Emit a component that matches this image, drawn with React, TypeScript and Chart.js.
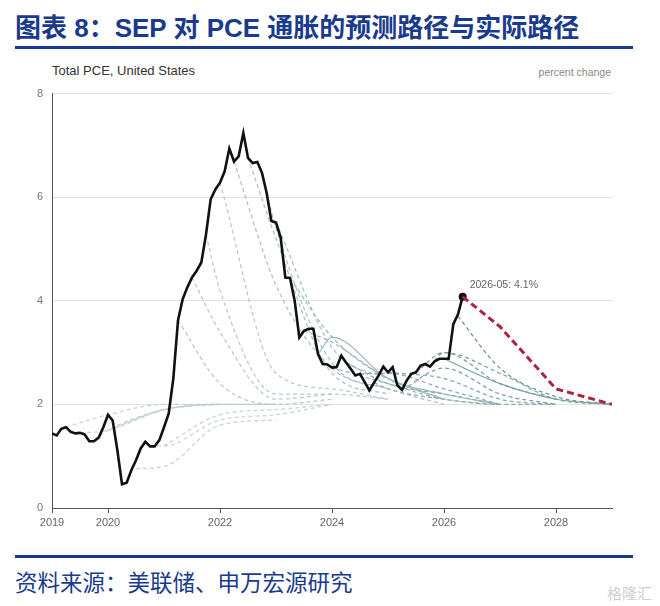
import React, { useRef, useEffect } from 'react';
import { Chart, registerables } from 'chart.js';

Chart.register(...registerables);

// monthly PCE y/y, 2019-01 .. 2026-05
const pceActual = [
  1.44, 1.40, 1.53, 1.56, 1.47, 1.44, 1.45, 1.42, 1.29, 1.29, 1.36, 1.56,
  1.80, 1.69, 1.12, 0.46, 0.49, 0.73, 0.92, 1.15, 1.28, 1.19, 1.19, 1.31,
  1.56, 1.82, 2.50, 3.62, 4.03, 4.26, 4.45, 4.58, 4.74, 5.28, 5.96, 6.15,
  6.28, 6.50, 6.94, 6.69, 6.79, 7.24, 6.76, 6.66, 6.68, 6.47, 6.08, 5.54,
  5.51, 5.22, 4.45, 4.44, 4.00, 3.29, 3.42, 3.46, 3.46, 2.97, 2.78, 2.77,
  2.71, 2.72, 2.94, 2.81, 2.69, 2.56, 2.59, 2.43, 2.27, 2.42, 2.56, 2.73,
  2.62, 2.72, 2.37, 2.28, 2.46, 2.59, 2.62, 2.75, 2.78, 2.73, 2.83, 2.88,
  2.88, 2.88, 3.55, 3.74, 4.08,
];
const actualStartYear = 2019;
const latestLabel = '2026-05: 4.1%';

// SEP median projections (Q4/Q4), one path per release
const sepReleases = [
  '2019-03', '2019-06', '2019-09', '2019-12', '2020-06', '2020-09', '2020-12',
  '2021-03', '2021-06', '2021-09', '2021-12', '2022-03', '2022-06', '2022-09',
  '2022-12', '2023-03', '2023-06', '2023-09', '2023-12', '2024-03', '2024-06',
  '2024-09', '2024-12', '2025-03', '2025-06', '2025-09', '2025-12', '2026-03',
];
const sepStartValues = [
  1.56, 1.45, 1.3, 1.5, 0.76, 1.2, 1.2,
  3.62, 4.45, 5.28, 6.28, 6.69, 6.76, 6.47,
  5.51, 4.44, 3.42, 2.97, 2.71, 2.81, 2.59,
  2.42, 2.62, 2.28, 2.62, 2.73, 2.88, 3.7,
];
const sepFirstYear = [
  2019, 2019, 2019, 2020, 2020, 2020, 2021,
  2021, 2021, 2021, 2022, 2022, 2022, 2022,
  2023, 2023, 2023, 2023, 2024, 2024, 2024,
  2024, 2025, 2025, 2025, 2025, 2026, 2026,
];
const sepPaths = [
  [1.8, 2.0, 2.0],
  [1.5, 1.9, 2.0],
  [1.5, 1.9, 2.0, 2.0],
  [1.9, 2.0, 2.0],
  [0.8, 1.6, 1.7],
  [1.2, 1.7, 1.8, 2.0],
  [1.8, 1.9, 2.0],
  [2.4, 2.0, 2.1],
  [3.4, 2.1, 2.2],
  [4.2, 2.2, 2.2, 2.1],
  [2.6, 2.3, 2.1],
  [4.3, 2.7, 2.3],
  [5.2, 2.6, 2.2],
  [5.4, 2.8, 2.3, 2.0],
  [3.1, 2.5, 2.1],
  [3.3, 2.5, 2.1],
  [3.2, 2.5, 2.1],
  [3.3, 2.5, 2.2, 2.0],
  [2.4, 2.1, 2.0],
  [2.4, 2.2, 2.0],
  [2.6, 2.3, 2.0],
  [2.3, 2.1, 2.0, 2.0],
  [2.5, 2.1, 2.0],
  [2.7, 2.2, 2.0],
  [3.0, 2.4, 2.1],
  [3.0, 2.6, 2.1, 2.0],
  [2.4, 2.1, 2.0],
  [2.7, 2.15, 2.0],
];
const solidReleases = ['2019-12', '2023-09', '2025-12'];

// newest projection, starting from the latest print
const latestFirstYear = 2026;
const latestPath = [3.5, 2.3, 2.0];

const xTickYears = [2019, 2020, 2022, 2024, 2026, 2028];
const yTicks = [0, 2, 4, 6, 8];

const yearColors: Record<number, string> = {
  2019: 'rgba(190,203,203,0.8)',
  2020: 'rgba(190,203,203,0.8)',
  2021: 'rgba(176,194,195,0.85)',
  2022: 'rgba(165,188,190,0.9)',
  2023: 'rgba(146,176,178,0.9)',
  2024: 'rgba(132,168,170,0.95)',
  2025: '#7aa2a4',
  2026: '#6c9a9b',
};

const FONT = "'Liberation Sans', Arial, sans-serif";

const App: React.FC = () => {
  const canvasRef = useRef<HTMLCanvasElement>(null);
  const chartRef = useRef<Chart | null>(null);

  useEffect(() => {
    if (!canvasRef.current) return;
    document.body.style.margin = '0';

    const actualPts = pceActual.map((v, i) => ({ x: actualStartYear + i / 12, y: v }));
    const lastPt = actualPts[actualPts.length - 1];

    const sepSets: any[] = sepReleases.map((rel, k) => {
      const [yy, mm] = rel.split('-').map(Number);
      const pts = [{ x: yy + mm / 12, y: sepStartValues[k] }];
      sepPaths[k].forEach((v, j) => pts.push({ x: sepFirstYear[k] + j + 1, y: v }));
      const solid = solidReleases.includes(rel);
      return {
        data: pts,
        borderColor: yearColors[yy],
        borderWidth: solid ? 1.2 : 1.3,
        borderDash: solid ? [] : [4, 3],
        pointRadius: 0,
        cubicInterpolationMode: 'monotone',
        order: 5,
      };
    });

    const redPts = [{ x: lastPt.x, y: lastPt.y }];
    latestPath.forEach((v, j) => redPts.push({ x: latestFirstYear + j + 1, y: v }));

    const annotate = {
      id: 'latestLabel',
      afterDatasetsDraw(chart: any) {
        const meta = chart.getDatasetMeta(sepSets.length);
        const el = meta.data[meta.data.length - 1];
        if (!el) return;
        const c = chart.ctx;
        c.save();
        c.font = `10.5px ${FONT}`;
        c.fillStyle = '#666';
        c.textBaseline = 'middle';
        c.fillText(latestLabel, el.x + 7, el.y - 12);
        c.restore();
      },
    };

    chartRef.current = new Chart(canvasRef.current, {
      type: 'line',
      data: {
        datasets: [
          ...sepSets,
          {
            data: actualPts,
            borderColor: '#111',
            borderWidth: 2.6,
            pointRadius: (ctx: any) => (ctx.dataIndex === pceActual.length - 1 ? 4 : 0),
            pointBackgroundColor: '#111',
            pointBorderWidth: 0,
            tension: 0,
            order: 1,
          },
          {
            data: redPts,
            borderColor: '#ad2240',
            borderWidth: 3,
            borderDash: [7, 4],
            pointRadius: 0,
            tension: 0,
            order: 0,
          },
        ],
      },
      options: {
        animation: false,
        responsive: false,
        layout: { padding: { top: 0, right: 48, left: 0, bottom: 0 } },
        plugins: { legend: { display: false }, tooltip: { enabled: false } },
        scales: {
          x: {
            type: 'linear',
            min: 2019,
            max: 2029,
            afterBuildTicks: (s: any) => {
              s.ticks = xTickYears.map((v) => ({ value: v }));
            },
            afterFit: (s: any) => {
              s.height = 26;
            },
            ticks: {
              color: '#666',
              font: { size: 11, family: FONT },
              padding: 3,
              maxRotation: 0,
              autoSkip: false,
              callback: (v: any) => String(v),
            },
            grid: { drawOnChartArea: false, drawTicks: true, tickLength: 5, color: '#555' },
            border: { color: '#555', width: 1 },
          },
          y: {
            min: 0,
            max: 8,
            afterBuildTicks: (s: any) => {
              s.ticks = yTicks.map((v) => ({ value: v }));
            },
            afterFit: (s: any) => {
              s.width = 52;
            },
            ticks: { color: '#777', font: { size: 11, family: FONT }, padding: 9 },
            grid: {
              drawTicks: false,
              color: (ctx: any) => (ctx.tick && ctx.tick.value === 0 ? 'rgba(0,0,0,0)' : '#e2e2e2'),
            },
            border: { color: '#555', width: 1 },
          },
        },
      },
      plugins: [annotate],
    } as any);

    return () => {
      if (chartRef.current) {
        chartRef.current.destroy();
        chartRef.current = null;
      }
    };
  }, []);

  const blue = '#1a3a8c';

  return (
    <div
      style={{
        position: 'fixed',
        left: 0,
        top: 0,
        width: 660,
        height: 606,
        background: '#fff',
        overflow: 'hidden',
        fontFamily: `${FONT}, 'Noto Sans CJK SC'`,
      }}
    >
      <div
        style={{
          position: 'absolute',
          left: 15,
          top: 12,
          fontSize: 26,
          lineHeight: '32px',
          fontWeight: 700,
          color: blue,
          whiteSpace: 'nowrap',
          fontFamily: "'Liberation Sans', 'Noto Sans CJK SC', sans-serif",
        }}
      >
        图表 8：SEP 对 PCE 通胀的预测路径与实际路径
      </div>
      <div style={{ position: 'absolute', left: 15, top: 46, width: 618, height: 3, background: blue }} />
      <div style={{ position: 'absolute', left: 52, top: 63, fontSize: 13, color: '#333', whiteSpace: 'nowrap' }}>
        Total PCE, United States
      </div>
      <div style={{ position: 'absolute', right: 49, top: 66, fontSize: 10.5, color: '#888', whiteSpace: 'nowrap' }}>
        percent change
      </div>
      <div style={{ position: 'absolute', left: 0, top: 78, width: 660, height: 456 }}>
        <canvas ref={canvasRef} width={660} height={456} style={{ width: 660, height: 456 }} />
      </div>
      <div style={{ position: 'absolute', left: 15, top: 555, width: 618, height: 3, background: blue }} />
      <div
        style={{
          position: 'absolute',
          left: 15,
          top: 566,
          fontSize: 22.5,
          lineHeight: '30px',
          color: blue,
          whiteSpace: 'nowrap',
          fontFamily: "'Noto Sans CJK SC', sans-serif",
        }}
      >
        资料来源：美联储、申万宏源研究
      </div>
      <div
        style={{
          position: 'absolute',
          right: 8,
          top: 582,
          fontSize: 15,
          color: '#d0d0d0',
          whiteSpace: 'nowrap',
          fontFamily: "'Noto Sans CJK SC', sans-serif",
        }}
      >
        格隆汇
      </div>
    </div>
  );
};

export default App;
